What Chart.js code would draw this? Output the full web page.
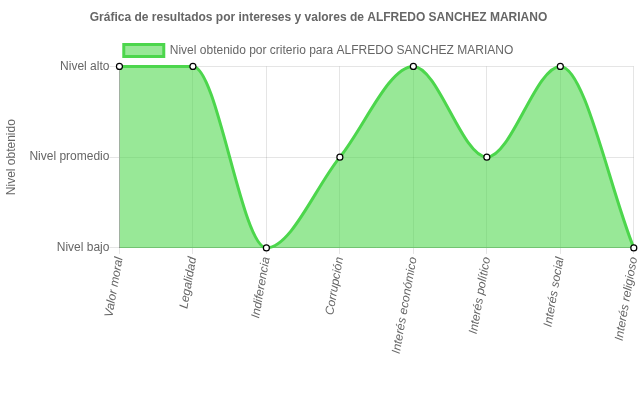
<!DOCTYPE html>
<html>
<head>
<meta charset="utf-8">
<script src="https://cdn.jsdelivr.net/npm/chart.js@4"></script>
<style>
  html, body { margin: 0; padding: 0; background: #fff; }
  #wrap { width: 639px; height: 396px; }
</style>
</head>
<body>
<div id="wrap"><canvas id="grafica"></canvas></div>
<script>
// datos de la grafica
const criterios = ['Valor moral', 'Legalidad', 'Indiferencia', 'Corrupción', 'Interés económico', 'Interés político', 'Interés social', 'Interés religioso'];
const niveles = ['Nivel bajo', 'Nivel promedio', 'Nivel alto'];
const resultados = [2, 2, 0, 1, 2, 1, 2, 0];

Chart.defaults.font.family = "'Liberation Sans', Arial, Helvetica, sans-serif";
Chart.defaults.font.size = 12;
Chart.defaults.color = '#666';

const ctx = document.getElementById('grafica').getContext('2d');
new Chart(ctx, {
  type: 'line',
  data: {
    labels: criterios,
    datasets: [{
      label: 'Nivel obtenido por criterio para ALFREDO SANCHEZ MARIANO',
      data: resultados,
      borderColor: '#4cd64c',
      backgroundColor: 'rgba(68,213,66,0.55)',
      borderWidth: 3,
      fill: true,
      clip: false,
      cubicInterpolationMode: 'monotone',
      pointRadius: 3,
      pointBorderWidth: 1.2,
      pointBackgroundColor: '#fff',
      pointBorderColor: '#000'
    }]
  },
  options: {
    responsive: true,
    maintainAspectRatio: false,
    animation: false,
    layout: { padding: { right: 2, bottom: 39 } },
    plugins: {
      title: {
        display: true,
        text: 'Gráfica de resultados por intereses y valores de ALFREDO SANCHEZ MARIANO',
        font: { weight: 'bold', size: 12 },
        padding: { top: 10, bottom: 11 }
      },
      legend: {
        labels: { boxWidth: 40, boxHeight: 12, padding: 9 }
      },
      tooltip: { enabled: false }
    },
    scales: {
      x: {
        grid: { color: 'rgba(0,0,0,0.1)', tickLength: 6 },
        border: { color: 'rgba(0,0,0,0.25)' },
        ticks: { font: { style: 'italic' }, minRotation: 80, maxRotation: 80, padding: 2 },
        afterFit: scale => { scale.paddingRight = 0; }
      },
      y: {
        min: 0, max: 2,
        grid: { color: 'rgba(0,0,0,0.1)', tickLength: 10 },
        border: { color: 'rgba(0,0,0,0.25)' },
        ticks: { stepSize: 1, padding: 0, callback: v => niveles[v] },
        title: { display: true, text: 'Nivel obtenido', padding: { top: 4, bottom: 11 } }
      }
    }
  }
});
</script>
</body>
</html>
